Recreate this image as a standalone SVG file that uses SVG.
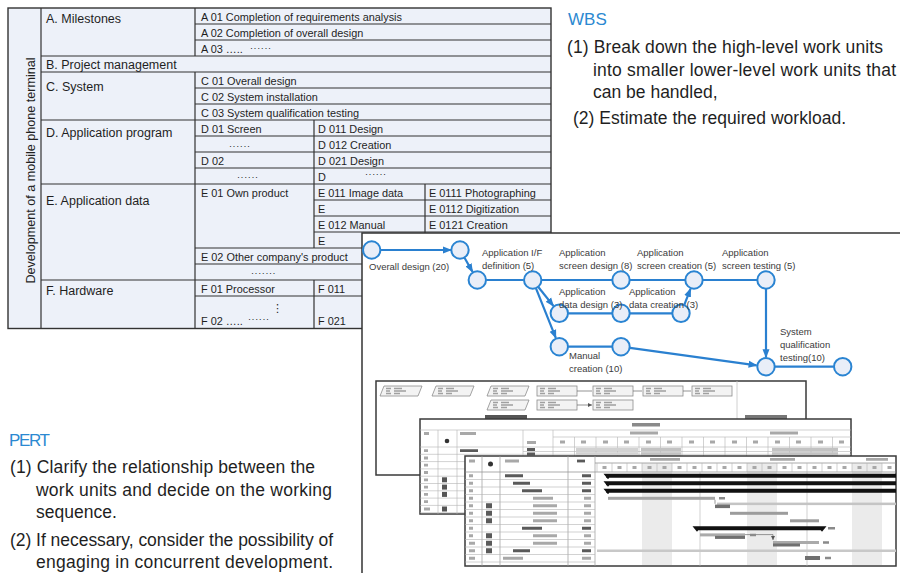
<svg xmlns="http://www.w3.org/2000/svg" width="900" height="573" viewBox="0 0 900 573">
<defs>
<style>
text{font-family:"Liberation Sans",Arial,sans-serif;fill:#1f1f1f}
.h{font-size:12.5px}
.c{font-size:10.9px}
.d{font-size:9px;letter-spacing:0.6px}
.p{font-size:17.5px}
.b{font-size:17.5px;fill:#2b89d1}
.l{font-size:9.5px;fill:#3b3b3b}
.ln{stroke:#333;stroke-width:1.2;fill:none}
.e{stroke:#2a80d0;stroke-width:2.2;fill:none}
.ea{stroke:#2a80d0;stroke-width:2.2;fill:none;marker-end:url(#ah)}
.n{fill:#e9eef8;stroke:#2a84d2;stroke-width:2}
.frame{fill:#fff;stroke:#3a3a3a;stroke-width:1.5}
.gl{stroke:#b4b4b4;stroke-width:0.6;fill:none}
.tx1{stroke:#5a5a5a;stroke-width:2.8;fill:none}
.tx2{stroke:#a8a8a8;stroke-width:2.8;fill:none}
</style>
<marker id="ah" markerUnits="userSpaceOnUse" markerWidth="9" markerHeight="8" refX="8" refY="4" orient="auto"><path d="M0,0.5L9,4L0,7.5z" fill="#2a80d0"/></marker>
<marker id="sa" markerUnits="userSpaceOnUse" markerWidth="4" markerHeight="4" refX="4" refY="2" orient="auto"><path d="M0,0L4,2L0,4z" fill="#555"/></marker>
<g id="pn">
<path d="M4,0H42L38,10H0z" fill="#f3f3f3" stroke="#8c8c8c" stroke-width="0.8"/>
<path d="M6,2.5h5M6,5h4M6,7.5h5M14,2.5h8M14,5h12M14,7.5h6" stroke="#a0a0a0" stroke-width="1.3"/>
</g>
<g id="rn">
<rect width="40" height="10" fill="#f3f3f3" stroke="#8c8c8c" stroke-width="0.8"/>
<path d="M3,2.5h5M3,5h4M3,7.5h5M11,2.5h8M11,5h12M11,7.5h6" stroke="#a0a0a0" stroke-width="1.3"/>
</g>
</defs>
<rect width="900" height="573" fill="#fff"/>

<g id="wbs-table">
<rect x="8" y="8" width="543" height="320.5" fill="#edf1f9" stroke="#333" stroke-width="1.4"/>
<path class="ln" d="M41,8V328M195,8V56M195,72V328M314,120V248M314,280V328M425,184V248M41,56H551M41,72H551M41,120H551M41,184H551M41,280H551M195,24H551M195,40H551M195,88H551M195,104H551M195,136H551M195,152H551M195,168H551M314,200H551M314,216H551M314,232H551M195,248H551M195,264H551M195,296H551"/>
<text class="h" transform="translate(35,170.5) rotate(-90)" text-anchor="middle" style="font-size:12.6px">Development of a mobile phone terminal</text>
<text class="h" x="46" y="22.5">A. Milestones</text>
<text class="h" x="46" y="68.5">B. Project management</text>
<text class="h" x="46" y="90.5">C. System</text>
<text class="h" x="46" y="137">D. Application program</text>
<text class="h" x="46" y="205">E. Application data</text>
<text class="h" x="46" y="295">F. Hardware</text>
<text class="c" x="201" y="21">A 01 Completion of requirements analysis</text>
<text class="c" x="201" y="37">A 02 Completion of overall design</text>
<text class="c" x="201" y="53">A 03 …..</text>
<text class="d" x="250" y="51">······</text>
<text class="c" x="201" y="85">C 01 Overall design</text>
<text class="c" x="201" y="101">C 02 System installation</text>
<text class="c" x="201" y="117">C 03 System qualification testing</text>
<text class="c" x="201" y="133">D 01 Screen</text>
<text class="d" x="229" y="149">······</text>
<text class="c" x="201" y="165">D 02</text>
<text class="d" x="237" y="180">······</text>
<text class="c" x="318" y="133">D 011 Design</text>
<text class="c" x="318" y="149">D 012 Creation</text>
<text class="c" x="318" y="165">D 021 Design</text>
<text class="c" x="318" y="181">D</text>
<text class="d" x="365" y="177">······</text>
<text class="c" x="201" y="197">E 01 Own product</text>
<text class="c" x="318" y="197">E 011 Image data</text>
<text class="c" x="429" y="197">E 0111 Photographing</text>
<text class="c" x="318" y="213">E</text>
<text class="c" x="429" y="213">E 0112 Digitization</text>
<text class="c" x="318" y="229">E 012 Manual</text>
<text class="c" x="429" y="229">E 0121 Creation</text>
<text class="c" x="318" y="245">E</text>
<text class="c" x="201" y="261">E 02 Other company's product</text>
<text class="d" x="251" y="276">·······</text>
<text class="c" x="201" y="293">F 01 Processor</text>
<text class="c" x="318" y="293">F 011</text>
<text x="272" y="312" style="font-family:'DejaVu Sans',sans-serif;font-size:11px">⋮</text>
<text class="c" x="201" y="325">F 02 …..</text>
<text class="d" x="248" y="322">······</text>
<text class="c" x="318" y="325">F 021</text>
</g>

<g id="wbs-notes">
<text class="b" x="568" y="25" style="font-size:17px">WBS</text>
<text class="p" x="567" y="53" textLength="316">(1) Break down the high-level work units</text>
<text class="p" x="593" y="76" textLength="303">into smaller lower-level work units that</text>
<text class="p" x="593" y="98">can be handled,</text>
<text class="p" x="573" y="124" textLength="273">(2) Estimate the required workload.</text>
</g>

<g id="pert-notes">
<text class="b" x="9" y="446" textLength="41" style="font-size:17px">PERT</text>
<text class="p" x="10" y="473" textLength="305">(1) Clarify the relationship between the</text>
<text class="p" x="36" y="496" textLength="296">work units and decide on the working</text>
<text class="p" x="36" y="518">sequence.</text>
<text class="p" x="10" y="546" textLength="323">(2) If necessary, consider the possibility of</text>
<text class="p" x="36" y="568" textLength="297">engaging in concurrent development.</text>
</g>

<g id="pert-panel"><rect x="362" y="233" width="545" height="345" fill="#fff" stroke="#333" stroke-width="1.5"/></g>

<g id="screenshot-network">
<rect class="frame" x="376" y="381" width="430" height="94"/>
<use href="#pn" x="380" y="386"/>
<use href="#pn" x="432" y="386"/>
<use href="#pn" x="487" y="386"/>
<use href="#rn" x="537" y="386"/>
<use href="#rn" x="593" y="386"/>
<use href="#rn" x="643" y="386"/>
<use href="#rn" x="692" y="386"/>
<use href="#pn" x="487" y="400"/>
<use href="#rn" x="537" y="400"/>
<use href="#rn" x="593" y="400"/>
<path d="M577,391H592M633,391H642M683,391H691M577,405H592" stroke="#666" stroke-width="0.7" marker-end="url(#sa)"/>
<path d="M737,381V419" stroke="#c4c4c4" stroke-width="0.8"/>
<rect x="485" y="415" width="42" height="4" fill="#555"/>
<rect x="745" y="415" width="42" height="4" fill="#777"/>
</g>

<g id="screenshot-gantt-table">
<rect class="frame" x="420" y="419" width="431" height="95"/>
<rect x="632" y="423" width="28" height="3.5" fill="#8a8a8a"/>
<path class="gl" d="M420,430H851M553,437H851M420,447H851M523,451.5H851M420,454.3H851M420,461.6H851M420,468.9H851M420,476.2H851M420,483.5H851M420,490.8H851M420,498.1H851M420,505.4H851M420,512.7H851"/>
<path class="gl" d="M438,430V514M457,430V514M523,430V514M553,430V514M574.5,437V456M596,437V456M617.5,437V456M639,437V456M660.5,437V456M682,437V456M703.5,437V456M725,437V456M746.5,437V456M768,437V456M789.5,437V456M811,437V456M832.5,437V456"/>
<path class="tx2" d="M424,433.5h5M460,433.5h16M527,442.5h9M630,433h28M770,433h28M560,442h5M581,442h5M603,442h5M624,442h5M646,442h5M667,442h5M689,442h5M710,442h5M732,442h5M753,442h5M775,442h5M796,442h5M818,442h5M839,442h5"/>
<circle cx="447" cy="441" r="2.3" fill="#333"/>
<rect x="576" y="447.8" width="62" height="3.4" fill="#d2d2d2"/>
<rect x="576" y="452.2" width="62" height="3.4" fill="#d2d2d2"/>
<rect x="641" y="447.8" width="40" height="3.4" fill="#c2c2c2"/>
<rect x="641" y="452.2" width="40" height="3.4" fill="#c2c2c2"/>
<rect x="772" y="447.8" width="66" height="3.4" fill="#c2c2c2"/>
<rect x="772" y="452.2" width="66" height="3.4" fill="#c2c2c2"/>
<path class="tx1" d="M527,449.5h8M527,454h8M460,450.6h18M466,457.5h16"/>
<path class="tx2" d="M424,450.6h4M424,458h4M424,465.2h4M424,472.5h4M424,479.8h4M424,487.1h4M424,494.4h4M424,501.7h4M424,509h6"/>
<rect x="442" y="477.3" width="5" height="5" fill="#555"/>
<rect x="442" y="484.6" width="5" height="5" fill="#555"/>
<rect x="442" y="491.9" width="5" height="5" fill="#555"/>
<rect x="442" y="506.5" width="5" height="5" fill="#555"/>
</g>

<g id="screenshot-gantt-chart">
<rect class="frame" x="465" y="456" width="431" height="110"/>
<rect x="642" y="463" width="30" height="102" fill="#ebebeb"/>
<rect x="747" y="463" width="30" height="102" fill="#ebebeb"/>
<rect x="852" y="463" width="30" height="102" fill="#ebebeb"/>
<path d="M465,472H896M595,463H896" stroke="#888" stroke-width="0.7"/>
<path d="M482,456V566M500,456V566M568,456V566M595,456V566" stroke="#999" stroke-width="0.7"/>
<path class="gl" d="M465,479.5H595M465,487H595M465,494.5H595M465,502H595M465,509.5H595M465,517H595M465,524.5H595M465,532H595M465,539.5H595M465,547H595M465,554.5H595M465,562H595"/>
<path class="gl" d="M597,463V472M612,463V472M627,463V472M642,463V472M657,463V472M672,463V472M687,463V472M702,463V472M717,463V472M732,463V472M747,463V472M762,463V472M777,463V472M792,463V472M807,463V472M822,463V472M837,463V472M852,463V472M867,463V472M882,463V472M700,472V566M807,472V566"/>
<path class="tx2" d="M650,459.3h30M770,459.3h25M866,459.3h22M602.5,467.5h4M617.5,467.5h4M632.5,467.5h4M647.5,467.5h4M662.5,467.5h4M677.5,467.5h4M692.5,467.5h4M707.5,467.5h4M722.5,467.5h4M737.5,467.5h4M752.5,467.5h4M767.5,467.5h4M782.5,467.5h4M797.5,467.5h4M812.5,467.5h4M827.5,467.5h4M842.5,467.5h4M857.5,467.5h4M872.5,467.5h4M887.5,467.5h4"/>
<path class="tx2" d="M469,461h6M505,461h14M469,475.75h4M469,483.25h4M469,490.75h4M469,498.25h4M469,505.75h4M469,513.25h4M469,520.75h4M469,528.25h4M469,535.75h4M469,543.25h6M469,550.75h6M469,558.25h6"/>
<path class="tx1" d="M577,461h8"/>
<circle cx="490.5" cy="464" r="2.5" fill="#333"/>
<path class="tx1" d="M505,475.75h18M513,483.25h17M522,490.75h20M522,528.25h20M513,550.75h17M582,475.75h9M582,483.25h9M582,490.75h9M582,528.25h9M582,550.75h9"/>
<path class="tx2" d="M533,498.25h20M533,505.75h24M533,513.25h24M533,520.75h24M533,535.75h24M533,543.25h24M503,558.25h20M584,498.25h7M584,505.75h7M584,513.25h7M584,520.75h7M584,535.75h7M584,543.25h7M582,558.25h9"/>
<rect x="486" y="503.25" width="6" height="5" fill="#5a5a5a"/>
<rect x="486" y="510.75" width="6" height="5" fill="#5a5a5a"/>
<rect x="486" y="518.25" width="6" height="5" fill="#5a5a5a"/>
<rect x="486" y="533.25" width="6" height="5" fill="#5a5a5a"/>
<rect x="486" y="540.75" width="6" height="5" fill="#5a5a5a"/>
<rect x="486" y="548.25" width="6" height="5" fill="#5a5a5a"/>
<path d="M606,473.8H896V477.8H606zM603.5,473.8h9l-4.5,5.5z M606,481.3H896V485.3H606zM603.5,481.3h9l-4.5,5.5z M606,488.8H896V492.8H606zM603.5,488.8h9l-4.5,5.5z M697,526.3H822V530.3H697zM692.5,526.3h9l-4.5,5.5zM817.5,526.3h9l-4.5,5.5z" fill="#111"/>
<rect x="608" y="496.8" width="107" height="3" fill="#a6a6a6"/>
<rect x="717" y="502.6" width="179" height="2.5" fill="#c4c4c4"/>
<rect x="715" y="504.6" width="15" height="3.5" fill="#707070"/>
<rect x="730" y="511.8" width="58" height="3" fill="#9c9c9c"/>
<rect x="790" y="519.3" width="29" height="3" fill="#9c9c9c"/>
<rect x="700" y="533.4" width="45" height="3" fill="#aaaaaa"/>
<rect x="715" y="535.9" width="30" height="3" fill="#707070"/>
<rect x="773" y="541" width="46" height="3" fill="#aaaaaa"/>
<rect x="773" y="543.5" width="27" height="3" fill="#707070"/>
<rect x="597" y="549.5" width="299" height="2.5" fill="#c8c8c8"/>
<rect x="805" y="556" width="15" height="4" fill="#707070"/>
<path d="M715,499.8V503.8M745,534.6H773V540" stroke="#555" stroke-width="0.6" fill="none" marker-end="url(#sa)"/>
<path d="M719,498.3h6M828,528.3h7M750,535h6M823,542.5h6M825,558h6" stroke="#8a8a8a" stroke-width="2.4"/>
</g>

<g id="connectors">
<path class="ea" d="M380.5,250H451"/>
<path class="ea" d="M464.5,257.8L472.5,271.8"/>
<path class="e" d="M486.3,280H523.7"/>
<path class="e" d="M541.7,280H612"/>
<path class="ea" d="M538.3,287L553.4,305.9"/>
<path class="ea" d="M536,288.4L555.8,337.9"/>
<path class="e" d="M568.3,313.3H612"/>
<path class="e" d="M630,313.3H672"/>
<path class="ea" d="M684.3,304.9L690.5,288.9"/>
<path class="e" d="M630,280H685"/>
<path class="e" d="M703,280H757"/>
<path class="ea" d="M766,289V357.2"/>
<path class="e" d="M568.3,346.7H612"/>
<path class="ea" d="M630,347.9L756.6,365.4"/>
<path class="e" d="M775,366.7H833.7"/>
</g>

<g id="n1"><circle class="n" cx="371.7" cy="250" r="8.7"/></g>
<g id="n2"><circle class="n" cx="460" cy="250" r="8.7"/></g>
<g id="n3"><circle class="n" cx="477.3" cy="280" r="8.7"/></g>
<g id="n4"><circle class="n" cx="532.7" cy="280" r="8.7"/></g>
<g id="n5"><circle class="n" cx="621" cy="280" r="8.7"/></g>
<g id="n6"><circle class="n" cx="559.3" cy="313.3" r="8.7"/></g>
<g id="n7"><circle class="n" cx="621" cy="313.3" r="8.7"/></g>
<g id="n8"><circle class="n" cx="559.3" cy="346.7" r="8.7"/></g>
<g id="n9"><circle class="n" cx="621" cy="346.7" r="8.7"/></g>
<g id="n10"><circle class="n" cx="694" cy="280" r="8.7"/></g>
<g id="n11"><circle class="n" cx="681" cy="313.3" r="8.7"/></g>
<g id="n12"><circle class="n" cx="766" cy="280" r="8.7"/></g>
<g id="n13"><circle class="n" cx="766" cy="366.7" r="8.7"/></g>
<g id="n14"><circle class="n" cx="842.7" cy="366.7" r="8.7"/></g>

<g id="pert-labels">
<text class="l" x="369" y="269.5">Overall design (20)</text>
<text class="l" x="482" y="256">Application I/F</text>
<text class="l" x="482" y="269">definition (5)</text>
<text class="l" x="559" y="256">Application</text>
<text class="l" x="559" y="269">screen design (8)</text>
<text class="l" x="637" y="256">Application</text>
<text class="l" x="637" y="269">screen creation (5)</text>
<text class="l" x="722" y="256">Application</text>
<text class="l" x="722" y="269">screen testing (5)</text>
<text class="l" x="559" y="295">Application</text>
<text class="l" x="559" y="308">data design (3)</text>
<text class="l" x="629" y="295">Application</text>
<text class="l" x="629" y="308">data creation (3)</text>
<text class="l" x="569" y="359">Manual</text>
<text class="l" x="569" y="372">creation (10)</text>
<text class="l" x="780" y="334.5">System</text>
<text class="l" x="780" y="347.5">qualification</text>
<text class="l" x="780" y="361">testing(10)</text>
</g>
</svg>
